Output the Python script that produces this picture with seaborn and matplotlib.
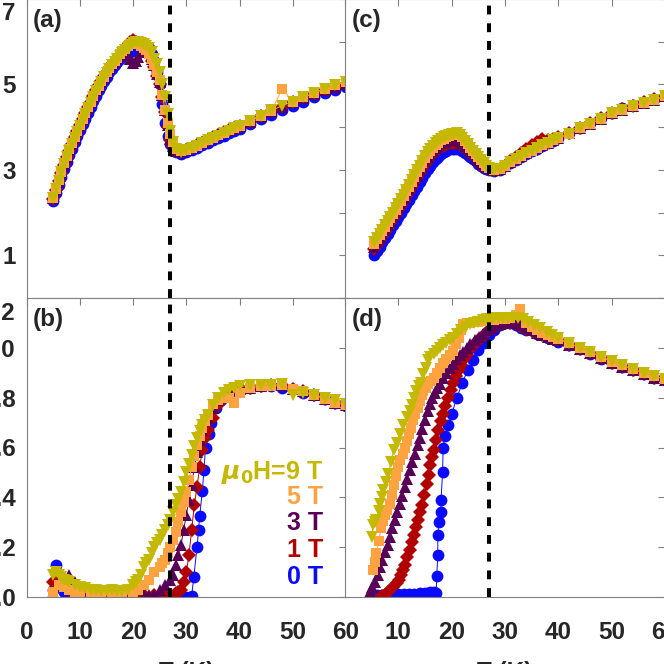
import matplotlib
matplotlib.use("Agg")
import matplotlib.pyplot as plt
import seaborn as sns

# ---------------- data ----------------
# panel (a)
T_a = [5, 5.5, 6, 6.5, 7, 7.5, 8, 8.5, 9, 9.5,
       10, 10.5, 11, 11.5, 12, 12.5, 13, 13.5, 14, 14.5,
       15, 15.5, 16, 16.5, 17, 17.5, 18, 18.5, 19, 19.5,
       20, 20.5, 21, 21.5, 22, 22.5, 23, 23.5, 24, 24.5,
       25, 25.5, 26, 26.5, 27, 27.5, 28,
       29, 30, 31, 32, 33, 34, 35, 36, 37, 38, 39, 40,
       42, 44, 46, 48, 50, 52, 54, 56, 58, 60]
a_0T = [2.28, 2.46, 2.65, 2.84, 3.02, 3.19, 3.35, 3.5, 3.65, 3.79,
        3.93, 4.07, 4.2, 4.34, 4.47, 4.61, 4.74, 4.86, 4.97, 5.08,
        5.18, 5.28, 5.37, 5.45, 5.53, 5.6, 5.66, 5.7, 5.74, 5.76,
        5.78, 5.8, 5.82, 5.85, 5.88, 5.88, 5.85, 5.72, 5.55, 5.3,
        5.0, 4.55, 4.1, 3.8, 3.6, 3.5, 3.42,
        3.38, 3.42, 3.47, 3.52, 3.58, 3.63, 3.69, 3.74, 3.8, 3.86, 3.91, 3.96,
        4.07, 4.18, 4.29, 4.4, 4.5, 4.6, 4.7, 4.79, 4.87, 4.95]
a_1T = [2.32, 2.53, 2.73, 2.93, 3.12, 3.29, 3.45, 3.61, 3.76, 3.91,
        4.05, 4.19, 4.33, 4.47, 4.6, 4.74, 4.87, 4.98, 5.09, 5.2,
        5.3, 5.39, 5.48, 5.56, 5.63, 5.7, 5.78, 5.85, 5.92, 6.0,
        6.05, 6.0, 5.95, 5.9, 5.85, 5.78, 5.7, 5.55, 5.4, 5.2,
        5.0, 4.7, 4.35, 4.0, 3.7, 3.55, 3.45,
        3.42, 3.47, 3.52, 3.58, 3.64, 3.7, 3.76, 3.82, 3.88, 3.93, 3.98, 4.03,
        4.13, 4.25, 4.37, 4.48, 4.58, 4.68, 4.78, 4.87, 4.95, 5.02]
a_3T = [2.33, 2.54, 2.74, 2.94, 3.13, 3.3, 3.46, 3.61, 3.76, 3.9,
        4.04, 4.18, 4.32, 4.46, 4.59, 4.73, 4.86, 4.97, 5.08, 5.18,
        5.28, 5.38, 5.47, 5.55, 5.62, 5.7, 5.8, 5.75, 5.7, 5.6,
        5.5, 5.55, 5.65, 5.75, 5.85, 5.8, 5.75, 5.6, 5.45, 5.25,
        5.05, 4.75, 4.4, 4.05, 3.72, 3.55, 3.45,
        3.43, 3.48, 3.54, 3.6, 3.66, 3.72, 3.78, 3.84, 3.9, 3.93, 3.98, 4.03,
        4.13, 4.25, 4.37, 4.48, 4.58, 4.68, 4.78, 4.87, 4.95, 5.02]
a_5T = [2.34, 2.55, 2.76, 2.96, 3.16, 3.32, 3.48, 3.63, 3.78, 3.92,
        4.06, 4.2, 4.33, 4.47, 4.6, 4.73, 4.86, 4.97, 5.08, 5.18,
        5.28, 5.38, 5.47, 5.55, 5.63, 5.71, 5.78, 5.84, 5.9, 5.95,
        5.98, 5.97, 5.95, 5.9, 5.85, 5.8, 5.72, 5.6, 5.45, 5.3,
        5.1, 4.75, 4.4, 4.1, 3.85, 3.65, 3.5,
        3.43, 3.47, 3.52, 3.57, 3.63, 3.69, 3.75, 3.81, 3.87, 3.93, 3.98, 4.03,
        4.14, 4.26, 4.38, 4.9, 4.6, 4.7, 4.8, 4.9, 4.98, 5.06]
a_9T = [2.35, 2.55, 2.75, 2.95, 3.13, 3.3, 3.45, 3.6, 3.75, 3.89,
        4.03, 4.17, 4.3, 4.44, 4.57, 4.71, 4.84, 4.95, 5.06, 5.17,
        5.27, 5.36, 5.45, 5.53, 5.6, 5.67, 5.74, 5.8, 5.86, 5.91,
        5.96, 5.99, 6.0, 5.98, 5.95, 5.9, 5.85, 5.75, 5.6, 5.47,
        5.3, 5.0, 4.7, 4.3, 3.9, 3.65, 3.5,
        3.42, 3.47, 3.52, 3.57, 3.63, 3.69, 3.75, 3.8, 3.86, 3.92, 3.98, 4.03,
        4.14, 4.27, 4.39, 4.5, 4.6, 4.7, 4.8, 4.9, 4.98, 5.06]

# panel (c)
T_c = [5.5, 6, 6.5, 7, 7.5, 8, 8.5, 9, 9.5, 10,
       10.5, 11, 11.5, 12, 12.5, 13, 13.5, 14, 14.5, 15,
       15.5, 16, 16.5, 17, 17.5, 18, 18.5, 19, 19.5, 20,
       20.5, 21, 21.5, 22, 22.5, 23, 23.5, 24, 24.5, 25,
       25.5, 26, 26.5, 27, 27.5, 28,
       29, 30, 31, 32, 33, 34, 35, 36, 37, 38, 39, 40,
       42, 44, 46, 48, 50, 52, 54, 56, 58, 60]
c_0T = [1.0, 1.1, 1.2, 1.3, 1.4, 1.5, 1.6, 1.7, 1.8, 1.9,
        2.0, 2.1, 2.2, 2.3, 2.4, 2.5, 2.61, 2.72, 2.82, 2.92,
        3.01, 3.1, 3.18, 3.25, 3.31, 3.37, 3.41, 3.45, 3.48, 3.5,
        3.5, 3.5, 3.48, 3.45, 3.4, 3.35, 3.3, 3.25, 3.2, 3.14,
        3.09, 3.05, 3.02, 3.0, 2.99, 2.98,
        3.0, 3.08, 3.16, 3.24, 3.3, 3.36, 3.43, 3.5, 3.56, 3.62, 3.68, 3.74,
        3.86, 3.99, 4.1, 4.22, 4.34, 4.44, 4.52, 4.6, 4.67, 4.74]
c_1T = [1.15, 1.25, 1.35, 1.45, 1.55, 1.65, 1.75, 1.85, 1.95, 2.05,
        2.16, 2.27, 2.38, 2.48, 2.59, 2.7, 2.81, 2.92, 3.02, 3.12,
        3.21, 3.3, 3.37, 3.43, 3.48, 3.53, 3.57, 3.6, 3.62, 3.64,
        3.64, 3.64, 3.61, 3.57, 3.52, 3.46, 3.4, 3.34, 3.27, 3.2,
        3.15, 3.1, 3.06, 3.03, 3.01, 3.0,
        3.02, 3.1, 3.2, 3.3, 3.4, 3.5, 3.58, 3.66, 3.72, 3.7, 3.72, 3.77,
        3.87, 3.98, 4.09, 4.21, 4.32, 4.42, 4.5, 4.58, 4.65, 4.72]
c_3T = [1.2, 1.3, 1.4, 1.5, 1.6, 1.71, 1.81, 1.92, 2.02, 2.12,
        2.23, 2.34, 2.45, 2.56, 2.67, 2.78, 2.89, 3.0, 3.1, 3.2,
        3.29, 3.38, 3.45, 3.52, 3.57, 3.62, 3.65, 3.68, 3.7, 3.72,
        3.72, 3.72, 3.68, 3.64, 3.57, 3.5, 3.43, 3.37, 3.3, 3.23,
        3.17, 3.12, 3.08, 3.04, 3.02, 3.0,
        3.02, 3.1, 3.18, 3.26, 3.33, 3.4, 3.46, 3.53, 3.59, 3.64, 3.7, 3.75,
        3.86, 3.97, 4.08, 4.2, 4.32, 4.41, 4.5, 4.57, 4.64, 4.72]
c_5T = [1.27, 1.37, 1.47, 1.57, 1.67, 1.77, 1.87, 1.97, 2.07, 2.17,
        2.28, 2.39, 2.5, 2.61, 2.72, 2.84, 2.95, 3.06, 3.17, 3.27,
        3.36, 3.45, 3.52, 3.58, 3.64, 3.69, 3.73, 3.77, 3.8, 3.82,
        3.84, 3.85, 3.81, 3.76, 3.68, 3.6, 3.52, 3.44, 3.37, 3.3,
        3.23, 3.16, 3.1, 3.05, 3.02, 3.0,
        3.02, 3.1, 3.18, 3.26, 3.33, 3.39, 3.45, 3.52, 3.58, 3.63, 3.69, 3.74,
        3.85, 3.97, 4.08, 4.2, 4.32, 4.41, 4.5, 4.57, 4.64, 4.72]
c_9T = [1.3, 1.4, 1.5, 1.6, 1.7, 1.8, 1.9, 2.0, 2.1, 2.2,
        2.31, 2.42, 2.53, 2.64, 2.76, 2.88, 2.99, 3.1, 3.21, 3.32,
        3.41, 3.5, 3.56, 3.62, 3.67, 3.72, 3.76, 3.8, 3.82, 3.84,
        3.85, 3.86, 3.81, 3.75, 3.68, 3.6, 3.52, 3.45, 3.37, 3.3,
        3.23, 3.16, 3.1, 3.05, 3.02, 3.0,
        3.02, 3.1, 3.18, 3.26, 3.33, 3.39, 3.45, 3.52, 3.58, 3.63, 3.69, 3.74,
        3.85, 3.97, 4.08, 4.2, 4.32, 4.41, 4.5, 4.57, 4.64, 4.72]

# panel (b)
Tb_0T = [5, 5.5, 6, 7, 8, 10, 12, 14, 16, 18, 20, 22, 24, 26, 28, 30, 31, 31.4, 32, 32.3, 32.5, 33, 33.3, 33.6,
         34.3, 34.7, 35.6, 36.5, 37.5, 38.5, 40, 42, 44, 46, 48, 50, 52, 54, 56, 58, 60]
b_0T = [0.03, 0.13, 0.05, 0.02, 0.01, 0.0, 0.0, 0.0, 0.0, 0.0, 0.0, 0.0, 0.0, 0.0, 0.0, 0.0, 0.005, 0.08, 0.2,
        0.268, 0.324, 0.424, 0.508, 0.6, 0.655, 0.7, 0.76, 0.79, 0.81, 0.825, 0.835, 0.84, 0.845, 0.845, 0.84,
        0.835, 0.82, 0.81, 0.795, 0.78, 0.765]
Tb_1T = [5, 6, 7, 8, 9, 10, 12, 14, 16, 18, 20, 22, 24, 26, 27, 28, 28.5, 29, 29.5, 30, 30.5, 31, 31.5, 32, 32.5,
         33, 33.5, 34, 35, 36, 37, 38, 40, 42, 44, 46, 48, 50, 52, 54, 56, 58, 60]
b_1T = [0.06, 0.08, 0.05, 0.03, 0.02, 0.01, 0.01, 0.01, 0.01, 0.01, 0.01, 0.01, 0.01, 0.01, 0.01, 0.015, 0.02,
        0.03, 0.06, 0.1, 0.17, 0.27, 0.37, 0.44, 0.52, 0.59, 0.64, 0.67, 0.72, 0.77, 0.8, 0.82, 0.835, 0.84,
        0.845, 0.85, 0.85, 0.835, 0.825, 0.81, 0.795, 0.78, 0.77]
Tb_3T = [5, 6, 7, 8, 9, 10, 11, 12, 14, 16, 18, 20, 22, 23, 24, 25, 26, 27, 27.5, 28, 28.5, 29, 29.5, 30, 30.5,
         31, 31.5, 32, 32.5, 33, 34, 35, 36, 37, 38, 40, 42, 44, 46, 48, 50, 52, 54, 56, 58, 60]
b_3T = [0.02, 0.06, 0.08, 0.09, 0.06, 0.04, 0.03, 0.02, 0.01, 0.01, 0.01, 0.01, 0.01, 0.01, 0.01, 0.03, 0.05,
        0.07, 0.09, 0.13, 0.17, 0.21, 0.27, 0.33, 0.39, 0.45, 0.52, 0.58, 0.63, 0.67, 0.72, 0.76, 0.79, 0.81,
        0.82, 0.835, 0.84, 0.845, 0.85, 0.85, 0.835, 0.825, 0.81, 0.795, 0.78, 0.77]
Tb_5T = [5, 6, 7, 8, 9, 10, 12, 14, 16, 18,
         20, 21, 22, 23, 24, 25, 25.5, 26, 26.5, 27,
         27.5, 28, 28.5, 29, 29.5, 30, 30.5, 31, 31.5, 32,
         32.5, 33, 33.5, 34, 35, 36, 37, 38, 39, 40,
         42, 44, 46, 48, 50, 52, 54, 56, 58, 60]
b_5T = [0.02, 0.05, 0.04, 0.03, 0.02, 0.02, 0.02, 0.02, 0.02, 0.02,
        0.02, 0.03, 0.05, 0.07, 0.1, 0.12, 0.135, 0.15, 0.175, 0.2,
        0.23, 0.26, 0.3, 0.34, 0.38, 0.42, 0.47, 0.52, 0.565, 0.61,
        0.645, 0.68, 0.705, 0.73, 0.775, 0.79, 0.8, 0.8, 0.78, 0.82,
        0.84, 0.845, 0.845, 0.85, 0.835, 0.825, 0.81, 0.795, 0.78, 0.77]
Tb_9T = [5, 5.5, 6, 6.5, 7, 7.5, 8, 9, 10, 11,
         12, 13, 14, 15, 16, 17, 18, 19,
         20, 20.5, 21, 21.5, 22, 22.5, 23, 23.5, 24, 24.5,
         25, 25.5, 26, 26.5, 27, 27.5, 28, 28.5, 29, 29.5,
         30, 30.5, 31, 31.5, 32, 32.5, 33, 33.5, 34,
         35, 36, 37, 38, 39, 40,
         42, 44, 46, 48, 50, 52, 54, 56, 58, 60]
b_9T = [0.09, 0.1, 0.09, 0.08, 0.07, 0.065, 0.06, 0.05, 0.04, 0.035,
        0.03, 0.03, 0.025, 0.025, 0.03, 0.025, 0.025, 0.03,
        0.05, 0.06, 0.07, 0.09, 0.12, 0.135, 0.15, 0.175, 0.2, 0.215,
        0.23, 0.25, 0.27, 0.29, 0.31, 0.34, 0.37, 0.395, 0.42, 0.46,
        0.5, 0.535, 0.57, 0.605, 0.64, 0.665, 0.69, 0.71, 0.73,
        0.77, 0.8, 0.82, 0.83, 0.84, 0.845,
        0.85, 0.85, 0.85, 0.855, 0.81, 0.82, 0.81, 0.8, 0.79, 0.775]

# panel (d)
Td_0T = [5, 6, 7, 8, 9, 10, 11, 12, 13, 14, 15, 16, 16.7, 17.1, 17.2, 17.4, 17.4, 17.6, 18.0, 18.0, 18.3, 18.4,
         18.8, 19.4, 20, 21, 22, 23, 24, 25, 26, 27, 28, 29, 30, 31, 32, 33, 34, 36, 38, 40, 42, 44, 46, 48, 50,
         52, 54, 56, 58, 60]
d_0T = [0.01, 0.01, 0.01, 0.01, 0.012, 0.012, 0.012, 0.012, 0.012, 0.015, 0.015, 0.02, 0.02, 0.016, 0.084, 0.168,
        0.248, 0.3, 0.34, 0.388, 0.5, 0.6, 0.648, 0.69, 0.735, 0.8, 0.86, 0.91, 0.95, 0.99, 1.02, 1.05, 1.07,
        1.09, 1.1, 1.1, 1.09, 1.08, 1.07, 1.055, 1.04, 1.025, 1.01, 0.995, 0.975, 0.955, 0.94, 0.925, 0.91, 0.895,
        0.88, 0.87]
Td_1T = [6.6, 7, 7.5, 8, 8.5, 9, 9.7, 10.1, 10.5, 10.9,
         11.2, 11.7, 12.2, 12.6, 13, 13.4, 13.7, 14.1, 14.4, 14.9,
         15.3, 15.7, 16, 16.3, 16.6, 17, 17.5, 18, 18.4, 18.8,
         19.3, 19.8, 20.3, 20.8, 21.3, 21.8, 22.2, 22.8, 23.3, 23.9,
         24.5, 25, 25.5, 26.2, 27, 27.7, 28.5, 29.2, 30, 31,
         32, 33, 34, 35, 36, 37, 38, 39, 40,
         42, 44, 46, 48, 50, 52, 54, 56, 58, 60]
d_1T = [0.0, 0.005, 0.01, 0.02, 0.03, 0.04, 0.055, 0.07, 0.09, 0.11,
        0.13, 0.16, 0.19, 0.22, 0.25, 0.28, 0.31, 0.34, 0.37, 0.41,
        0.455, 0.49, 0.53, 0.56, 0.59, 0.63, 0.67, 0.705, 0.735, 0.765,
        0.8, 0.83, 0.86, 0.885, 0.91, 0.93, 0.95, 0.97, 0.99, 1.005,
        1.02, 1.03, 1.04, 1.055, 1.07, 1.08, 1.09, 1.095, 1.1, 1.1,
        1.095, 1.085, 1.075, 1.067, 1.06, 1.052, 1.045, 1.037, 1.03,
        1.012, 0.995, 0.978, 0.958, 0.94, 0.925, 0.91, 0.895, 0.88, 0.87]
Td_3T = [4.7, 5.1, 5.6, 6.1, 6.6, 7.0, 7.5, 8.0, 8.4, 8.9,
         9.3, 9.8, 10.3, 10.7, 11.2, 11.7, 12.2, 12.6, 13.1, 13.6,
         14.1, 14.5, 15, 15.5, 16, 16.4, 16.9, 17.3, 17.8, 18.4,
         19, 19.6, 20.3, 20.9, 21.5, 22.1, 22.8, 23.5, 24.3, 25.1,
         25.9, 26.7, 27.5, 28.2, 29, 29.7, 30.5, 31.2, 32, 33,
         34, 35, 36, 37, 38, 39, 40,
         42, 44, 46, 48, 50, 52, 54, 56, 58, 60]
d_3T = [0.02, 0.04, 0.06, 0.09, 0.12, 0.15, 0.18, 0.21, 0.24, 0.275,
        0.31, 0.34, 0.375, 0.405, 0.44, 0.475, 0.51, 0.54, 0.575, 0.61,
        0.64, 0.675, 0.71, 0.745, 0.775, 0.8, 0.82, 0.84, 0.855, 0.88,
        0.9, 0.92, 0.935, 0.955, 0.97, 0.985, 1.0, 1.015, 1.03, 1.045,
        1.055, 1.07, 1.08, 1.09, 1.095, 1.1, 1.105, 1.105, 1.1, 1.09,
        1.08, 1.07, 1.06, 1.052, 1.045, 1.037, 1.03,
        1.012, 0.995, 0.978, 0.958, 0.94, 0.925, 0.91, 0.895, 0.88, 0.87]
Td_5T = [5.3, 5.6, 5.9, 6.3, 6.8, 7.1, 7.5, 7.9, 8.4, 8.8,
         9.2, 9.6, 10, 10.4, 10.8, 11.2, 11.6, 12, 12.4, 12.8,
         13.2, 13.6, 14, 14.4, 14.7, 15.1, 15.6, 16.1, 16.6, 17.2,
         17.8, 18.4, 19, 19.6, 20.3, 20.8, 21.3, 21.8, 22.2, 22.8,
         23.5, 24.2, 25, 26, 27, 28, 29, 30, 31, 32,
         32.8, 34, 35, 36, 37, 38, 39, 40,
         42, 44, 46, 48, 50, 52, 54, 56, 58, 60]
d_5T = [0.108, 0.14, 0.176, 0.225, 0.277, 0.305, 0.33, 0.35, 0.375, 0.41,
        0.45, 0.485, 0.52, 0.55, 0.575, 0.6, 0.628, 0.655, 0.68, 0.71,
        0.735, 0.76, 0.785, 0.81, 0.828, 0.84, 0.855, 0.868, 0.88, 0.9,
        0.92, 0.938, 0.955, 0.97, 0.988, 1.015, 1.04, 1.07, 1.095, 1.098,
        1.1, 1.102, 1.105, 1.108, 1.11, 1.112, 1.115, 1.117, 1.12, 1.13,
        1.155, 1.1, 1.085, 1.07, 1.06, 1.05, 1.042, 1.035,
        1.018, 1.0, 0.982, 0.962, 0.945, 0.93, 0.915, 0.9, 0.885, 0.875]
Td_9T = [5, 5.3, 5.6, 5.9, 6.3, 6.6, 6.9, 7.2, 7.6, 8.1,
         8.6, 9.1, 9.7, 10.3, 10.9, 11.6, 12.1, 12.5, 13, 13.4,
         13.8, 14.2, 14.7, 15.1, 15.5, 16, 16.6, 17.2, 17.8, 18.4,
         19, 19.6, 20.3, 21, 21.8, 22.6, 23.4, 24.2, 25, 25.8,
         26.6, 27.3, 28, 28.8, 29.7, 30.6, 31.5, 32.4, 33.4, 34.4,
         35.5, 36.6, 37.8, 38.9, 40,
         42, 44, 46, 48, 50, 52, 54, 56, 58, 60]
d_9T = [0.24, 0.29, 0.3, 0.31, 0.345, 0.375, 0.4, 0.428, 0.46, 0.495,
        0.54, 0.588, 0.62, 0.655, 0.69, 0.721, 0.745, 0.77, 0.8, 0.828,
        0.845, 0.86, 0.895, 0.92, 0.95, 0.965, 0.975, 0.988, 1.0, 1.01,
        1.02, 1.03, 1.04, 1.055, 1.07, 1.082, 1.095, 1.1, 1.105, 1.11,
        1.115, 1.117, 1.118, 1.119, 1.12, 1.12, 1.12, 1.118, 1.115, 1.105,
        1.09, 1.078, 1.065, 1.052, 1.04,
        1.02, 1.0, 0.985, 0.965, 0.948, 0.93, 0.915, 0.9, 0.885, 0.875]

fields = ["0 T", "1 T", "3 T", "5 T", "9 T"]
x_ticks = [0, 10, 20, 30, 40, 50, 60]
T_dash = 27

# ---------------- style ----------------
sns.set_theme(style="white")
plt.rcParams["font.family"] = ["Liberation Sans", "DejaVu Sans"]
plt.rcParams["font.weight"] = "bold"
plt.rcParams["mathtext.fontset"] = "dejavusans"

colors = ["#0a0aff", "#b00000", "#580058", "#ffa340", "#c4b800"]
markers = ["o", "D", "^", "s", "v"]
msizes = [8.5, 6.8, 8.8, 7.3, 8.8]
GRAY = "#808080"
FS = 17.5

fig = plt.figure(figsize=(6.64, 6.64), dpi=100)
W = H = 664.0


def px_axes(x0, y0, x1, y1):
    return fig.add_axes([x0 / W, 1 - y1 / H, (x1 - x0) / W, (y1 - y0) / H])


ax_a = px_axes(26.7, -1, 346, 298)
ax_c = px_axes(345, -1, 665, 298)
ax_b = px_axes(26.7, 298, 346, 597)
ax_d = px_axes(345, 298, 665, 597)

panels = {
    ax_a: ([T_a] * 5, [a_0T, a_1T, a_3T, a_5T, a_9T]),
    ax_c: ([T_c] * 5, [c_0T, c_1T, c_3T, c_5T, c_9T]),
    ax_b: ([Tb_0T, Tb_1T, Tb_3T, Tb_5T, Tb_9T], [b_0T, b_1T, b_3T, b_5T, b_9T]),
    ax_d: ([Td_0T, Td_1T, Td_3T, Td_5T, Td_9T], [d_0T, d_1T, d_3T, d_5T, d_9T]),
}

for ax, (Ts, Ys) in panels.items():
    for T, Y, c, m, ms in zip(Ts, Ys, colors, markers, msizes):
        sns.lineplot(x=T, y=Y, ax=ax, color=c, marker=m, markersize=ms, markeredgewidth=0,
                     linewidth=0.7, estimator=None, sort=False, legend=False)
    ax.axvline(T_dash, color="black", lw=2.9, linestyle=(0, (2.2, 2.2)), zorder=10)
    ax.set_xlim(0, 60)
    ax.set_xticks(x_ticks)
    for sp in ax.spines.values():
        sp.set_color(GRAY)
        sp.set_linewidth(0.8)
    ax.tick_params(direction="in", length=5, width=0.8, color=GRAY, top=True, right=True,
                   labelsize=FS, pad=17.5)
    ax.tick_params(axis="y", pad=8.0)
    ax.set_xlabel("")
    ax.set_ylabel("")

# y axes
for ax in (ax_a, ax_c):
    ax.set_ylim(0, 7)
    ax.set_yticks(range(0, 8))
for ax in (ax_b, ax_d):
    ax.set_ylim(0, 1.2)
    ax.set_yticks([0, 0.2, 0.4, 0.6, 0.8, 1.0, 1.2])

ax_a.set_yticklabels(["", "1", "", "3", "", "5", "", ""])
ax_b.set_yticklabels(["0.0", "0.2", "0.4", "0.6", "0.8", "1.0", ""])
# top labels drawn slightly lowered, as in the reference
ax_a.annotate("7", xy=(0, 7), xycoords=("axes fraction", "data"), xytext=(-8.0, -8.6),
              textcoords="offset points", ha="right", va="center_baseline", fontsize=FS,
              fontweight="bold", annotation_clip=False)
ax_b.annotate("1.2", xy=(0, 1.2), xycoords=("axes fraction", "data"), xytext=(-8.0, -9.5),
              textcoords="offset points", ha="right", va="center_baseline", fontsize=FS,
              fontweight="bold", annotation_clip=False)
for ax in (ax_c, ax_d):
    ax.tick_params(labelleft=False)
for ax in (ax_a, ax_c):
    ax.tick_params(labelbottom=False)

ax_b.set_xticklabels([str(v) for v in x_ticks])
ax_d.set_xticklabels([""] + [str(v) for v in x_ticks[1:]])
for ax in (ax_b, ax_d):
    ax.set_xlabel("T (K)", fontsize=FS, fontweight="bold", labelpad=12)

# panel letters
for ax, lab in ((ax_a, "(a)"), (ax_b, "(b)"), (ax_c, "(c)"), (ax_d, "(d)")):
    ax.text(0.02, 0.968, lab, transform=ax.transAxes, ha="left", va="top",
            fontsize=17.5, fontweight="bold", zorder=20)

# field labels in (b)
leg_text = [r"$\mu_0$H=9 T", "5 T", "3 T", "1 T", "0 T"]
leg_col = [colors[4], colors[3], colors[2], colors[1], colors[0]]
leg_y = [0.415, 0.334, 0.247, 0.157, 0.067]
for t, c, y in zip(leg_text, leg_col, leg_y):
    ax_b.text(0.928, y, t, transform=ax_b.transAxes, ha="right", va="center",
              fontsize=18, fontweight="bold", color=c, zorder=20)

fig.savefig("out.png", dpi=100)
